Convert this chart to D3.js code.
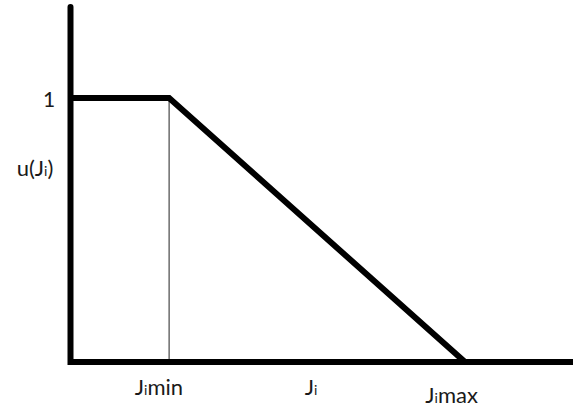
<!DOCTYPE html>
<html>
<head>
<meta charset="utf-8">
<script src="https://cdn.jsdelivr.net/npm/d3@7"></script>
<style>
  html, body { margin: 0; padding: 0; background: #fff; }
  svg { display: block; }
  text { font-family: Lato, "Open Sans", "Liberation Sans", sans-serif; fill: #1a1a1a; }
</style>
</head>
<body>
<svg id="chart" width="573" height="408"></svg>
<script>
// ---- data ----
const curveX = [0, 2.5, 10];          // J_i values of the utility curve breakpoints
const curveY = [1, 1, 0];             // u(J_i)
const jMin = 2.5;
const jMax = 10;
const xAxisMax = 13;
const yAxisMax = 1.345;
const yTickValues = [1];
const yTickLabels = ["1"];
const xLabelBase = ["J", "J", "J"];
const xLabelSub = ["i", "i", "i"];
const xLabelRest = ["min", "", "max"];
const xLabelValues = [2.24, 6.1, 9.66];
const yAxisTitle = { base: "u(J", sub: "i", rest: ")" };

// ---- layout ----
const svg = d3.select("#chart");
const x = d3.scaleLinear().domain([0, 10]).range([70.5, 465]);
const y = d3.scaleLinear().domain([0, 1]).range([362, 98]);

// thin vertical line at J_min
svg.append("line")
  .attr("x1", x(jMin)).attr("x2", x(jMin))
  .attr("y1", y(1)).attr("y2", y(0))
  .attr("stroke", "#555").attr("stroke-width", 1.3);

// utility curve
const pts = curveX.map((d, i) => [d, curveY[i]]);
svg.append("path")
  .attr("d", d3.line().x(d => x(d[0])).y(d => y(d[1]))(pts))
  .attr("fill", "none").attr("stroke", "#000")
  .attr("stroke-width", 6).attr("stroke-linejoin", "miter");

// axes (thick black L shape)
svg.append("path")
  .attr("d", d3.line()([[x(0), y(yAxisMax)], [x(0), y(0)], [x(xAxisMax), y(0)]]))
  .attr("fill", "none").attr("stroke", "#000")
  .attr("stroke-width", 6).attr("stroke-linecap", "round").attr("stroke-linejoin", "miter");

// y tick label
svg.selectAll("text.ytick").data(yTickValues).enter().append("text")
  .attr("class", "ytick")
  .attr("x", 49).attr("y", d => y(d) + 9)
  .attr("text-anchor", "middle")
  .attr("font-size", 21)
  .text((d, i) => yTickLabels[i]);

// y axis title u(J_i)
const yt = svg.append("text").attr("x", 35).attr("y", 176)
  .attr("text-anchor", "middle").attr("font-size", 22);
yt.append("tspan").text(yAxisTitle.base);
yt.append("tspan").attr("font-size", 14).text(yAxisTitle.sub);
yt.append("tspan").text(yAxisTitle.rest);

// x labels
const baselines = [395, 395, 403];
xLabelValues.forEach((v, i) => {
  const t = svg.append("text").attr("x", x(v)).attr("y", baselines[i])
    .attr("text-anchor", "middle").attr("font-size", 22);
  t.append("tspan").text(xLabelBase[i]);
  t.append("tspan").attr("font-size", 14).text(xLabelSub[i]);
  if (xLabelRest[i]) t.append("tspan").text(xLabelRest[i]);
});
</script>
</body>
</html>
